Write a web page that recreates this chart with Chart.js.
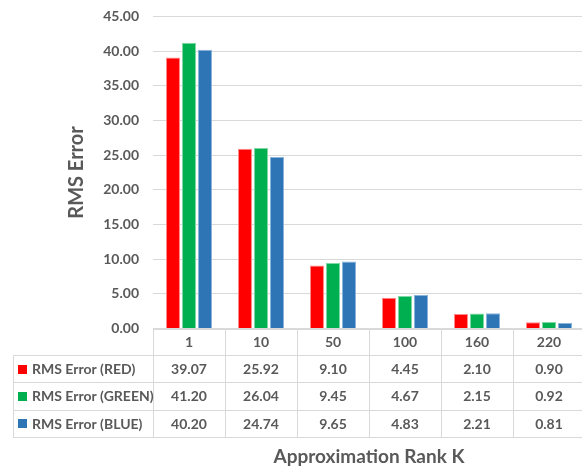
<!DOCTYPE html>
<html>
<head>
<meta charset="utf-8">
<script src="https://cdn.jsdelivr.net/npm/chart.js@4.4.1/dist/chart.umd.min.js"></script>
<style>
  html, body { margin: 0; padding: 0; background: #ffffff; overflow: hidden; }
  #wrap { width: 590px; height: 469px; }
</style>
</head>
<body>
<div id="wrap"><canvas id="chart" width="590" height="469"></canvas></div>
<script>
// Approximation rank K on the x axis
const categories = ['1', '10', '50', '100', '160', '220'];

// RMS error per colour channel
const rmsRed   = [39.07, 25.92, 9.10, 4.45, 2.10, 0.90];
const rmsGreen = [41.20, 26.04, 9.45, 4.67, 2.15, 0.92];
const rmsBlue  = [40.20, 24.74, 9.65, 4.83, 2.21, 0.81];

const seriesNames = ['RMS Error (RED)', 'RMS Error (GREEN)', 'RMS Error (BLUE)'];
const seriesColors = ['#FF0000', '#00B050', '#2E75B6'];
const seriesBorders = ['#FF8A8A', '#7FD7A5', '#8DB3DA'];

const yTicks = { min: 0, max: 45, step: 5 };

const TEXT = '#595959';
const GRID = '#D9D9D9';
const FONT = 'Lato, "Open Sans", sans-serif';

// Data table drawn under the plot, aligned with the category scale
const dataTable = {
  id: 'dataTable',
  afterDraw(chart) {
    const ctx = chart.ctx;
    const x = chart.scales.x;
    const area = chart.chartArea;
    const top = area.bottom;
    const headerH = 26.5;
    const rowH = 27.3;
    const leftEdge = 13;
    const n = categories.length;
    const colW = (area.right - area.left) / n;
    const rows = [rmsRed, rmsGreen, rmsBlue];
    const bottom = top + headerH + rowH * rows.length;

    ctx.save();
    ctx.strokeStyle = GRID;
    ctx.lineWidth = 1;

    // axis line / top of table
    ctx.beginPath();
    ctx.moveTo(area.left, Math.round(top) + 0.5);
    ctx.lineTo(area.right, Math.round(top) + 0.5);
    ctx.stroke();

    // horizontal row lines
    for (let r = 0; r <= rows.length; r++) {
      const y = Math.round(top + headerH + r * rowH) + 0.5;
      ctx.beginPath();
      ctx.moveTo(leftEdge, y);
      ctx.lineTo(area.right, y);
      ctx.stroke();
    }

    // vertical column lines
    for (let c = 0; c <= n; c++) {
      const xx = Math.round(area.left + c * colW) + 0.5;
      ctx.beginPath();
      ctx.moveTo(xx, Math.round(top));
      ctx.lineTo(xx, Math.round(bottom) + 0.5);
      ctx.stroke();
    }
    // left border of the series label column
    ctx.beginPath();
    ctx.moveTo(leftEdge + 0.5, Math.round(top + headerH));
    ctx.lineTo(leftEdge + 0.5, Math.round(bottom) + 0.5);
    ctx.stroke();

    ctx.fillStyle = TEXT;
    ctx.font = 'bold 14px ' + FONT;
    ctx.textBaseline = 'middle';

    // header row: category labels
    ctx.textAlign = 'center';
    categories.forEach((cat, i) => {
      ctx.fillText(cat, x.getPixelForValue(i), top + headerH / 2 + 1);
    });

    // series rows
    rows.forEach((vals, r) => {
      const cy = top + headerH + rowH * r + rowH / 2 + 1;
      ctx.fillStyle = seriesColors[r];
      ctx.fillRect(18, Math.round(cy - 5), 9, 9);
      ctx.fillStyle = TEXT;
      ctx.textAlign = 'left';
      ctx.fillText(seriesNames[r], 32, cy);
      ctx.textAlign = 'center';
      vals.forEach((v, i) => {
        ctx.fillText(v.toFixed(2), x.getPixelForValue(i), cy);
      });
    });

    // x axis title
    ctx.font = 'bold 19px ' + FONT;
    ctx.textAlign = 'center';
    ctx.fillText('Approximation Rank K', (area.left + area.right) / 2, 457);
    ctx.restore();
  }
};

const datasets = [rmsRed, rmsGreen, rmsBlue].map((vals, i) => ({
  label: seriesNames[i],
  data: vals,
  backgroundColor: seriesColors[i],
  borderColor: seriesBorders[i],
  borderWidth: 1,
  categoryPercentage: 0.667,
  barPercentage: 0.875
}));

new Chart(document.getElementById('chart'), {
  type: 'bar',
  data: { labels: categories, datasets },
  plugins: [dataTable],
  options: {
    responsive: false,
    animation: false,
    layout: { padding: { left: 0, right: 5, top: 16.5, bottom: 140.5 } },
    plugins: { legend: { display: false }, tooltip: { enabled: false } },
    scales: {
      x: { display: false },
      y: {
        min: yTicks.min,
        max: yTicks.max,
        border: { display: false },
        grid: { color: GRID, lineWidth: 1, drawTicks: false },
        ticks: {
          stepSize: yTicks.step,
          padding: 14,
          color: TEXT,
          font: { family: FONT, size: 14, weight: 'bold' },
          callback: v => Number(v).toFixed(2)
        },
        title: {
          display: true,
          text: 'RMS Error',
          color: TEXT,
          font: { family: FONT, size: 20, weight: 'bold' },
          padding: { top: 65, bottom: 0 }
        },
        afterFit(scale) {
          scale.width = 153;
          scale.paddingTop = 0;
          scale.paddingBottom = 0;
        }
      }
    }
  }
});
</script>
</body>
</html>
